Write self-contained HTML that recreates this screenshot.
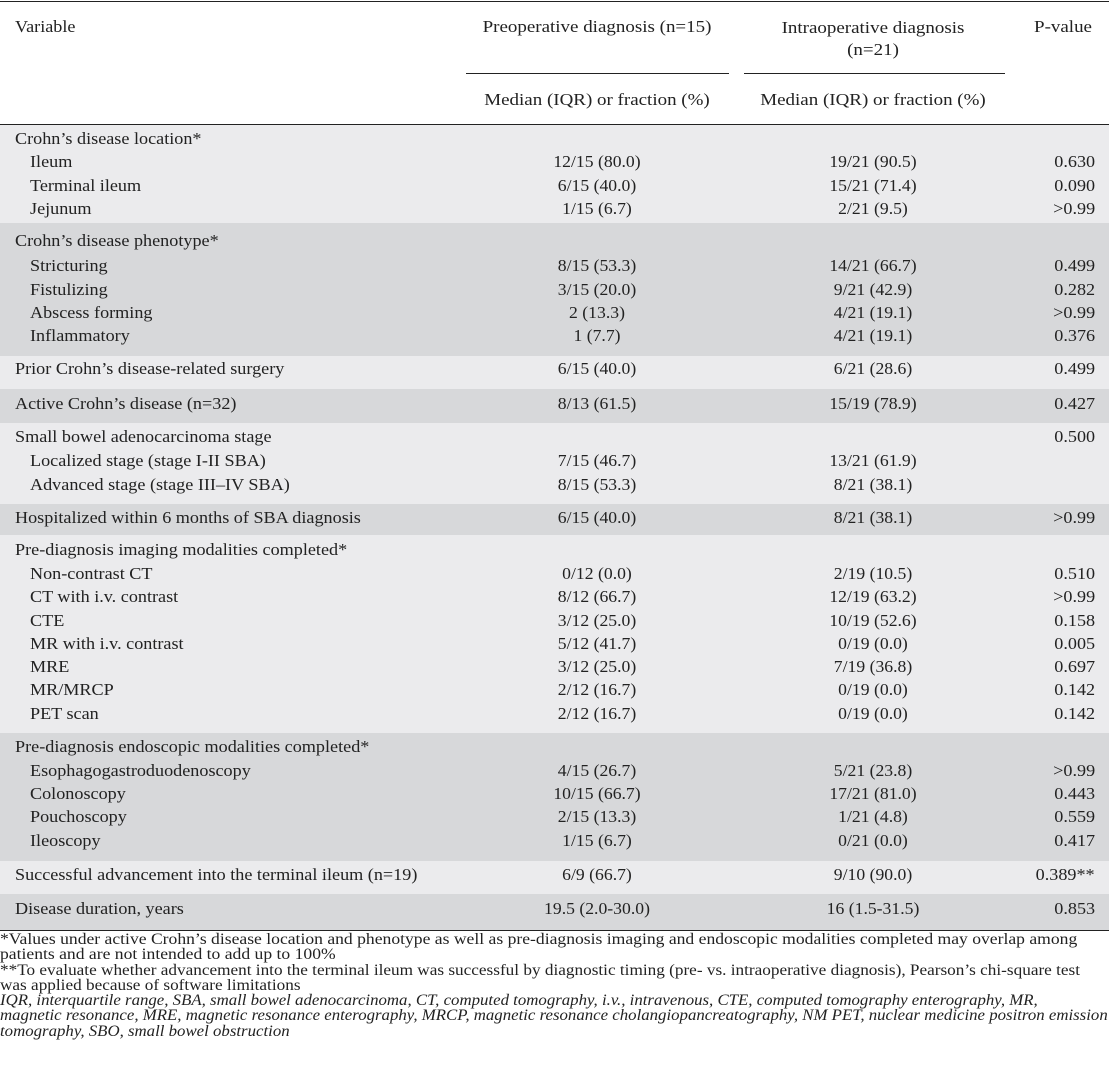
<!DOCTYPE html>
<html><head><meta charset="utf-8">
<style>
body{margin:0;width:1109px;height:1074px;background:#fff;position:relative;overflow:hidden;font-family:"Liberation Serif",serif;color:#222;}
.t{position:absolute;font-size:16.5px;line-height:20px;white-space:nowrap;transform:scaleX(1.1);transform-origin:0 50%;}
.r{transform-origin:100% 50%;}
.c{transform:translateX(-50%) scaleX(1.07);transform-origin:50% 50%;text-align:center;}
.h{transform:translateX(-50%) scaleX(1.15);}
.g{position:absolute;left:0;width:1109px;}
.ln{position:absolute;background:#222;height:1px;}
.fn{position:absolute;left:0;font-size:15.5px;line-height:15.4px;white-space:nowrap;transform:scaleX(1.135);transform-origin:0 0;}
</style></head><body>
<div id="root"></div>
<script>
const groups=[
 {top:125,bot:222,shade:0,rows:[
  ["Crohn’s disease location*","","","",139,0],
  ["Ileum","12/15 (80.0)","19/21 (90.5)","0.630",162,1],
  ["Terminal ileum","6/15 (40.0)","15/21 (71.4)","0.090",186,1],
  ["Jejunum","1/15 (6.7)","2/21 (9.5)",">0.99",209,1]]},
 {top:223,bot:355,shade:1,rows:[
  ["Crohn’s disease phenotype*","","","",241,0],
  ["Stricturing","8/15 (53.3)","14/21 (66.7)","0.499",266,1],
  ["Fistulizing","3/15 (20.0)","9/21 (42.9)","0.282",290,1],
  ["Abscess forming","2 (13.3)","4/21 (19.1)",">0.99",313,1],
  ["Inflammatory","1 (7.7)","4/21 (19.1)","0.376",336,1]]},
 {top:356,bot:388,shade:0,rows:[["Prior Crohn’s disease-related surgery","6/15 (40.0)","6/21 (28.6)","0.499",369,0]]},
 {top:389,bot:422,shade:1,rows:[["Active Crohn’s disease (n=32)","8/13 (61.5)","15/19 (78.9)","0.427",404,0]]},
 {top:423,bot:503,shade:0,rows:[
  ["Small bowel adenocarcinoma stage","","","0.500",437,0],
  ["Localized stage (stage I-II SBA)","7/15 (46.7)","13/21 (61.9)","",461,1],
  ["Advanced stage (stage III–IV SBA)","8/15 (53.3)","8/21 (38.1)","",485,1]]},
 {top:504,bot:534,shade:1,rows:[["Hospitalized within 6 months of SBA diagnosis","6/15 (40.0)","8/21 (38.1)",">0.99",518,0]]},
 {top:535,bot:732,shade:0,rows:[
  ["Pre-diagnosis imaging modalities completed*","","","",550,0],
  ["Non-contrast CT","0/12 (0.0)","2/19 (10.5)","0.510",574,1],
  ["CT with i.v. contrast","8/12 (66.7)","12/19 (63.2)",">0.99",597,1],
  ["CTE","3/12 (25.0)","10/19 (52.6)","0.158",621,1],
  ["MR with i.v. contrast","5/12 (41.7)","0/19 (0.0)","0.005",644,1],
  ["MRE","3/12 (25.0)","7/19 (36.8)","0.697",667,1],
  ["MR/MRCP","2/12 (16.7)","0/19 (0.0)","0.142",690,1],
  ["PET scan","2/12 (16.7)","0/19 (0.0)","0.142",714,1]]},
 {top:733,bot:860,shade:1,rows:[
  ["Pre-diagnosis endoscopic modalities completed*","","","",747,0],
  ["Esophagogastroduodenoscopy","4/15 (26.7)","5/21 (23.8)",">0.99",771,1],
  ["Colonoscopy","10/15 (66.7)","17/21 (81.0)","0.443",794,1],
  ["Pouchoscopy","2/15 (13.3)","1/21 (4.8)","0.559",817,1],
  ["Ileoscopy","1/15 (6.7)","0/21 (0.0)","0.417",841,1]]},
 {top:861,bot:893,shade:0,rows:[["Successful advancement into the terminal ileum (n=19)","6/9 (66.7)","9/10 (90.0)","0.389**",875,0]]},
 {top:894,bot:930,shade:1,rows:[["Disease duration, years","19.5 (2.0-30.0)","16 (1.5-31.5)","0.853",909,0]]}
];
const root=document.getElementById('root');
function mk(cls,txt,css){const d=document.createElement('div');d.className=cls;if(txt)d.textContent=txt;Object.assign(d.style,css);root.appendChild(d);return d;}
groups.forEach(function(g,i){
 const b=mk('g','',{top:g.top+'px',height:(g.bot-g.top+1)+'px',background:g.shade?'#d7d8da':'#ebebed'});
 
 
 g.rows.forEach(function(r){
  const y=(r[4]-10)+'px';
  const a=mk('t',r[0],{left:(r[5]?30:15)+'px',top:y});
  
  
  if(r[1]){const p=mk('t c',r[1],{left:'597px',top:y});
   
   }
  if(r[2]){const q=mk('t c',r[2],{left:'873px',top:y});
   
   }
  if(r[3]){const v=mk('t r',r[3],{right:'14px',top:y});
   
   }
 });
});
</script>
<div class="ln" style="left:0;top:1px;width:1109px;"></div>
<div class="t" style="left:15px;top:17px;">Variable</div>
<div class="t c h" style="left:597px;top:17px;">Preoperative diagnosis (n=15)</div>
<div class="t c h" style="left:873px;top:17px;line-height:22px;">Intraoperative diagnosis<br>(n=21)</div>
<div class="t c h" style="left:1063px;top:17px;">P-value</div>
<div class="ln" style="left:466px;top:73px;width:263px;"></div>
<div class="ln" style="left:744px;top:73px;width:261px;"></div>
<div class="t c h" style="left:597px;top:90px;">Median (IQR) or fraction (%)</div>
<div class="t c h" style="left:873px;top:90px;">Median (IQR) or fraction (%)</div>
<div class="ln" style="left:0;top:124px;width:1109px;"></div>
<div class="ln" style="left:0;top:930px;width:1109px;"></div>
<div class="fn" style="top:932px;">*Values under active Crohn’s disease location and phenotype as well as pre-diagnosis imaging and endoscopic modalities completed may overlap among<br>patients and are not intended to add up to 100%</div>
<div class="fn" style="top:963px;transform:scaleX(1.11);">**To evaluate whether advancement into the terminal ileum was successful by diagnostic timing (pre- vs. intraoperative diagnosis), Pearson’s chi-square test<br>was applied because of software limitations</div>
<div class="fn" style="top:993px;font-style:italic;transform:scaleX(1.085);">IQR, interquartile range, SBA, small bowel adenocarcinoma, CT, computed tomography, i.v., intravenous, CTE, computed tomography enterography, MR,<br>magnetic resonance, MRE, magnetic resonance enterography, MRCP, magnetic resonance cholangiopancreatography, NM PET, nuclear medicine positron emission<br>tomography, SBO, small bowel obstruction</div>
</body></html>
